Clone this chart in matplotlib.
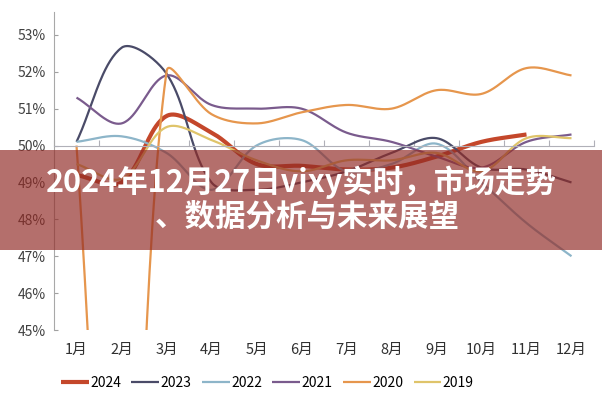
import numpy as np
import matplotlib.pyplot as plt
from matplotlib.patches import Rectangle

plt.rcParams['font.family'] = ['Noto Sans CJK SC', 'DejaVu Sans']

months = ['1月', '2月', '3月', '4月', '5月', '6月', '7月', '8月', '9月', '10月', '11月', '12月']
yticks = [45, 46, 47, 48, 49, 50, 51, 52, 53]

# values in percent (2020 Feb is far below the axis)
s2024 = [49.2, 49.0, 50.8, 50.35, 49.5, 49.45, 49.35, 49.4, 49.7, 50.1, 50.3, None]
s2023 = [50.1, 52.65, 51.95, 49.0, 48.8, 49.0, 49.3, 49.8, 50.2, 49.4, 49.35, 49.0]
s2022 = [50.1, 50.25, 49.8, 48.8, 50.0, 50.15, 49.3, 49.5, 50.05, 49.0, 47.9, 47.0]
s2021 = [51.3, 50.6, 51.9, 51.1, 51.0, 51.0, 50.35, 50.1, 49.7, 49.4, 50.1, 50.3]
s2020 = [50.0, 33.0, 52.0, 50.85, 50.6, 50.9, 51.1, 51.0, 51.5, 51.4, 52.1, 51.9]
s2019 = [49.5, 49.1, 50.5, 50.15, 49.6, 49.3, 49.6, 49.6, 49.8, 49.3, 50.2, 50.2]

series = [('2024', s2024, '#c4472b', 3.0),
          ('2023', s2023, '#4a4b68', 1.6),
          ('2022', s2022, '#8db5c9', 1.6),
          ('2021', s2021, '#7a5b8d', 1.6),
          ('2020', s2020, '#e6964d', 1.6),
          ('2019', s2019, '#dfc46a', 1.6)]

title1 = '2024年12月27日vixy实时，市场走势'
title2 = '、数据分析与未来展望'


def smooth(xs, ys, t=0.34, n=40):
    # excel-like smoothed line, bezier control points scaled by segment lengths
    sx, sy = 45.0, 36.9
    P = np.column_stack([np.array(xs) * sx, np.array(ys) * sy])
    N = len(P)
    cin, cout = np.zeros_like(P), np.zeros_like(P)
    for i in range(N):
        prev = P[i - 1] if i > 0 else P[i]
        nxt = P[i + 1] if i < N - 1 else P[i]
        d1 = np.hypot(*(P[i] - prev))
        d2 = np.hypot(*(nxt - P[i]))
        tan = nxt - prev
        if d1 + d2 == 0:
            cin[i] = cout[i] = P[i]
            continue
        cin[i] = P[i] - t * tan * d1 / (d1 + d2)
        cout[i] = P[i] + t * tan * d2 / (d1 + d2)
    u = np.linspace(0, 1, n)[:, None]
    out = []
    for i in range(N - 1):
        b = ((1 - u) ** 3 * P[i] + 3 * (1 - u) ** 2 * u * cout[i]
             + 3 * (1 - u) * u ** 2 * cin[i + 1] + u ** 3 * P[i + 1])
        out.append(b)
    out = np.vstack(out)
    return out[:, 0] / sx, out[:, 1] / sy


fig = plt.figure(figsize=(6.02, 4.0), dpi=100)
ax = fig.add_axes([54 / 602, 70 / 400, 540 / 602, 318 / 400])

x = np.arange(1, 13)
for name, vals, col, lw in series:
    xs = [xx for xx, v in zip(x, vals) if v is not None]
    ys = [v for v in vals if v is not None]
    cx, cy = smooth(xs, ys)
    ax.plot(cx, cy, color=col, lw=lw, label=name, solid_capstyle='butt')

ax.set_xlim(0.5, 12.5)
ax.set_ylim(45, 53.62)
ax.set_yticks(yticks)
ax.set_yticklabels(['%d%%' % v for v in yticks], fontsize=10, color='#404040')
ax.tick_params(axis='y', direction='in', length=3, color='#a0a0a0', pad=6)

for s in ['top', 'right']:
    ax.spines[s].set_visible(False)
ax.spines['left'].set_color('#a8a8a8')
ax.spines['bottom'].set_position(('data', 50))
ax.spines['bottom'].set_color('#b0b0b8')
ax.set_xticks(np.arange(0.5, 13, 1))
ax.set_xticklabels([])
ax.tick_params(axis='x', direction='in', length=4, color='#b0b0b8')

lab = ax.secondary_xaxis(0)
lab.spines['bottom'].set_visible(False)
lab.set_xticks(x)
lab.set_xticklabels(months, fontsize=10.5, color='#303030')
lab.tick_params(length=0, pad=9)

ax.legend(loc='upper center', bbox_to_anchor=(0.395, -0.105), ncol=6, frameon=False,
          fontsize=10, handlelength=2.0, handletextpad=0.1, columnspacing=0.75)

fig.patches.append(Rectangle((0, 150 / 400), 1, 100 / 400, transform=fig.transFigure,
                             facecolor=(0.57, 0.17, 0.15), alpha=0.68, edgecolor='none',
                             zorder=5))
fig.text(0.5, 1 - 182 / 400, title1, ha='center', va='center', color='white',
         fontsize=22, fontweight='bold', zorder=6)
fig.text(0.51, 1 - 217 / 400, title2, ha='center', va='center', color='white',
         fontsize=22, fontweight='bold', zorder=6)

fig.savefig('out.png', dpi=100)
